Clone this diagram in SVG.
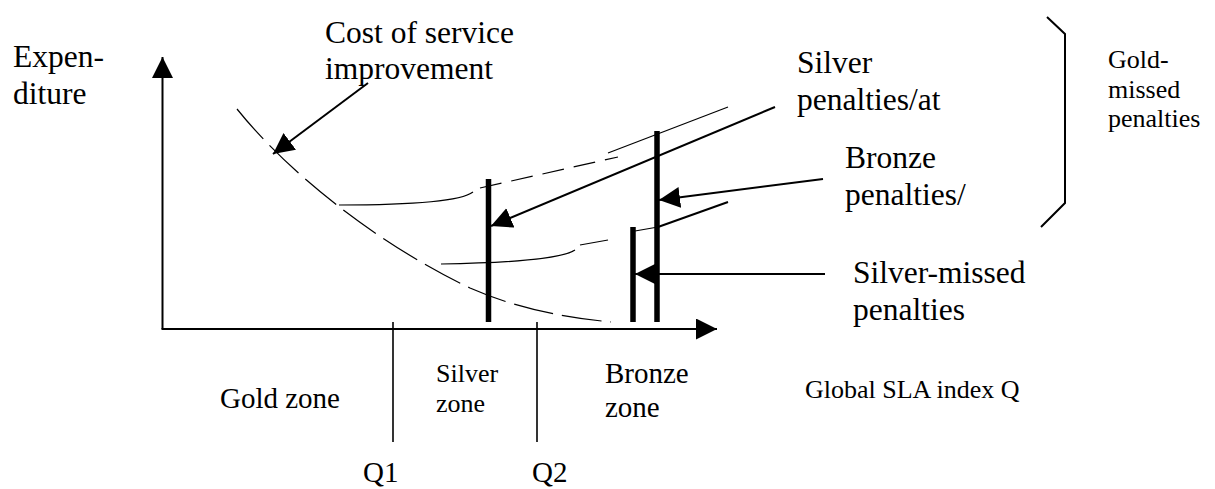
<svg xmlns="http://www.w3.org/2000/svg" width="1215" height="489" viewBox="0 0 1215 489">
<style>
text{font-family:"Liberation Serif","Times New Roman",serif;fill:#000}
.lg{font-size:31.5px}
.md{font-size:29px}
.sm{font-size:26px}
.ax{stroke:#000;stroke-width:2;fill:none}
.thin{stroke:#000;stroke-width:1.2;fill:none}
.dash{stroke:#000;stroke-width:1.2;fill:none;stroke-dasharray:40 9}
.dash2{stroke:#000;stroke-width:1.2;fill:none;stroke-dasharray:22 10}
.bar{stroke:#000;stroke-width:5.5;fill:none}
.arr{stroke:#000;stroke-width:2;fill:none;marker-end:url(#ah)}
.tick{stroke:#000;stroke-width:1.6;fill:none}
</style>
<defs>
<marker id="ah" markerUnits="userSpaceOnUse" markerWidth="22" markerHeight="22" refX="21" refY="10.5" orient="auto">
<path d="M0,0 L21,10.5 L0,21 z" fill="#000"/>
</marker>
</defs>
<g id="axes">
<line class="arr" x1="162.5" y1="329" x2="162.5" y2="57"/>
<line class="arr" x1="161.5" y1="329" x2="717" y2="329"/>
<line class="tick" x1="393" y1="322" x2="393" y2="442"/>
<line class="tick" x1="537" y1="322" x2="537" y2="442"/>
</g>
<g id="cost-curve">
<path class="dash" d="M237,109 C290,175 380,245 470,288 C520,310 570,318 611,322"/>
</g>
<g id="silver-curve">
<path class="thin" d="M339,205 C400,205 460,202 473,192"/>
<path class="dash2" d="M480,188 L618,157"/>
<path class="thin" d="M608,153 L728,107"/>
</g>
<g id="bronze-curve">
<path class="thin" d="M441,264 C500,263 560,260 575,250"/>
<path class="thin" d="M580,245 L608,240"/>
<path class="thin" d="M635,231 L658,227"/>
<path class="ax" d="M658,227 L728,202"/>
</g>
<g id="bars">
<line class="bar" x1="488.5" y1="179" x2="488.5" y2="322"/>
<line class="bar" x1="633" y1="227" x2="633" y2="322"/>
<line class="bar" x1="657" y1="131" x2="657" y2="322"/>
</g>
<g id="connectors">
<line class="arr" x1="368" y1="83" x2="273" y2="154"/>
<line class="arr" x1="775" y1="107" x2="491" y2="226"/>
<line class="arr" x1="823" y1="179" x2="659" y2="200"/>
<line class="arr" x1="825" y1="274" x2="635" y2="274"/>
</g>
<g id="bracket">
<polyline class="ax" points="1047,17 1065,34 1065,203 1041,227"/>
</g>
<g id="label-expenditure">
<text class="lg" x="13" y="67">Expen-</text>
<text class="lg" x="13" y="104">diture</text>
</g>
<g id="label-cost">
<text class="lg" x="325" y="43">Cost of service</text>
<text class="lg" x="325" y="79">improvement</text>
</g>
<g id="label-silver-pen">
<text class="lg" x="797" y="73">Silver</text>
<text class="lg" x="797" y="110">penalties/at</text>
</g>
<g id="label-bronze-pen">
<text class="lg" x="845" y="168">Bronze</text>
<text class="lg" x="845" y="205">penalties/</text>
</g>
<g id="label-silver-missed">
<text class="lg" x="853" y="283">Silver-missed</text>
<text class="lg" x="853" y="320">penalties</text>
</g>
<g id="label-gold-missed">
<text class="sm" x="1108" y="68">Gold-</text>
<text class="sm" x="1108" y="98">missed</text>
<text class="sm" x="1108" y="127">penalties</text>
</g>
<g id="label-axis-x">
<text class="sm" x="805" y="398">Global SLA index Q</text>
</g>
<g id="label-zones">
<text class="md" x="220" y="408">Gold zone</text>
<text class="sm" x="436" y="382">Silver</text>
<text class="sm" x="436" y="412">zone</text>
<text class="md" x="605" y="383">Bronze</text>
<text class="md" x="605" y="417">zone</text>
</g>
<g id="label-q">
<text class="md" x="363" y="482">Q1</text>
<text class="md" x="532" y="482">Q2</text>
</g>
</svg>
